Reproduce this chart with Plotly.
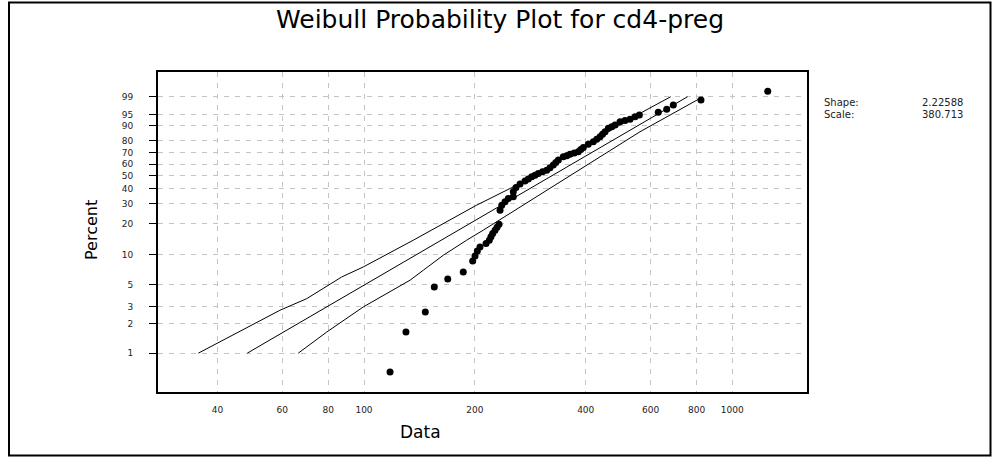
import numpy as np
import plotly.graph_objects as go

# ---- data ----
data_x = [117.7, 130.0, 146.7, 155.2, 168.8, 186.0, 197.3, 200.2, 203.1, 206.5,
          214.5, 218.9, 221.2, 223.6, 226.9, 229.7, 232.6, 234.1, 236.6, 241.5,
          246.5, 254.3, 254.3, 258.6, 265.2, 273.6, 279.3, 285.3, 291.3, 297.4,
          305.3, 313.4, 319.9, 326.6, 331.7, 337.0, 347.6, 355.1, 362.5, 372.2,
          381.8, 387.8, 394.0, 406.4, 419.4, 428.4, 437.4, 444.3, 451.3, 460.7,
          470.6, 480.4, 495.7, 511.3, 527.6, 544.4, 559.3, 629.6, 663.6, 691.6,
          822.2, 1248.0]
data_pct = [0.64, 1.65, 2.65, 4.77, 5.75, 6.75, 8.71, 9.75, 10.93, 11.94,
            12.9, 13.9, 14.96, 16.1, 17.3, 18.4, 19.7, 26.4, 29.2, 31.2,
            33.3, 34.4, 37.8, 41.0, 43.5, 46.0, 47.6, 49.3, 50.7, 52.1,
            53.6, 54.9, 57.1, 59.3, 61.5, 63.7, 66.6, 67.6, 68.7, 69.8,
            70.9, 72.8, 74.6, 77.3, 79.2, 81.1, 82.9, 84.7, 86.4, 88.5,
            89.4, 90.4, 92.05, 92.6, 93.15, 94.25, 94.88, 95.81, 96.69, 97.70,
            98.58, 99.47]

fit_pct = [1, 99]
fit_x = [48.2, 756.0]

band_lo_pct = [1, 2.76, 3.63, 6.02, 7.59, 10.44, 13.88, 29.2, 41.4, 95.47, 99]
band_lo_x = [35.5, 59.1, 69.9, 87.0, 99.6, 117.7, 136.1, 202.3, 254.3, 561.6, 680.4]

band_hi_pct = [1, 1.65, 2.99, 5.58, 7.03, 9.91, 13.88, 17.3, 86.4, 99]
band_hi_x = [66.3, 79.2, 99.6, 133.3, 144.9, 164.2, 190.0, 210.8, 561.6, 832.7]

x_ticks = [40, 60, 80, 100, 200, 400, 600, 800, 1000]
y_ticks = [1, 2, 3, 5, 10, 20, 30, 40, 50, 60, 70, 80, 90, 95, 99]

shape_val = "2.22588"
scale_val = "380.713"


def wb(p):
    """Weibull probability scale: ln(-ln(1-p))."""
    p = np.asarray(p, dtype=float) / 100.0
    return np.log(-np.log(1.0 - p))


FONT = "DejaVu Sans"
W, H = 992, 457
ML, MR, MT, MB = 158, 185, 72, 65
PW, PH = W - ML - MR, H - MT - MB


def px(x):
    return (x - ML) / PW


def py(y):
    return (H - MB - y) / PH


fig = go.Figure()
line_style = dict(color="black", width=1)
fig.add_trace(go.Scatter(x=band_lo_x, y=wb(band_lo_pct), mode="lines",
                         line=line_style, hoverinfo="skip", showlegend=False))
fig.add_trace(go.Scatter(x=fit_x, y=wb(fit_pct), mode="lines",
                         line=line_style, hoverinfo="skip", showlegend=False))
fig.add_trace(go.Scatter(x=band_hi_x, y=wb(band_hi_pct), mode="lines",
                         line=line_style, hoverinfo="skip", showlegend=False))
fig.add_trace(go.Scatter(x=data_x, y=wb(data_pct), mode="markers",
                         marker=dict(color="black", size=7, line=dict(width=0)),
                         showlegend=False))

grid = dict(showgrid=True, gridcolor="#c4c4c4", gridwidth=1, griddash="5px,6px")

fig.update_xaxes(type="log", range=[1.4407, 3.2028],
                 tickvals=x_ticks, ticktext=[str(v) for v in x_ticks],
                 ticks="outside", ticklen=8, tickcolor="rgba(0,0,0,0)",
                 showline=True, linewidth=2, linecolor="black", mirror=True,
                 zeroline=False, tickfont=dict(family=FONT, size=9, color="#222"),
                 **grid)
fig.update_yaxes(range=[-5.528, 2.118],
                 tickvals=wb(y_ticks), ticktext=[str(v) for v in y_ticks],
                 ticks="outside", ticklen=7, tickwidth=1, tickcolor="black",
                 ticklabelstandoff=14,
                 showline=True, linewidth=2, linecolor="black", mirror=True,
                 zeroline=False, tickfont=dict(family=FONT, size=9, color="#222"),
                 **grid)

ann = [
    dict(text="Weibull Probability Plot for cd4-preg", x=px(500), y=py(19),
         font=dict(family=FONT, size=25, color="black"), xanchor="center", yanchor="middle"),
    dict(text="Percent", x=px(91), y=py(230), textangle=-90,
         font=dict(family=FONT, size=16, color="black"), xanchor="center", yanchor="middle"),
    dict(text="Data", x=px(420), y=py(432),
         font=dict(family=FONT, size=17, color="black"), xanchor="center", yanchor="middle"),
    dict(text="Shape:", x=px(821.5), y=py(102.5),
         font=dict(family=FONT, size=10, color="#222"), xanchor="left", yanchor="middle"),
    dict(text=shape_val, x=px(965), y=py(102.5),
         font=dict(family=FONT, size=10, color="#222"), xanchor="right", yanchor="middle"),
    dict(text="Scale:", x=px(821.5), y=py(114),
         font=dict(family=FONT, size=10, color="#222"), xanchor="left", yanchor="middle"),
    dict(text=scale_val, x=px(965), y=py(114),
         font=dict(family=FONT, size=10, color="#222"), xanchor="right", yanchor="middle"),
]
for a in ann:
    a.update(xref="paper", yref="paper", showarrow=False)

fig.update_layout(
    width=W, height=H,
    margin=dict(l=ML, r=MR, t=MT, b=MB, pad=0),
    paper_bgcolor="white", plot_bgcolor="white",
    annotations=ann,
    shapes=[dict(type="rect", xref="paper", yref="paper",
                 x0=px(9), x1=px(990.5), y0=py(455.5), y1=py(2.5),
                 line=dict(color="black", width=2), layer="above")],
)

fig.write_html("out.html",
               config={"displayModeBar": False},
               post_script="document.body.style.margin='0';document.body.style.overflow='hidden';")
